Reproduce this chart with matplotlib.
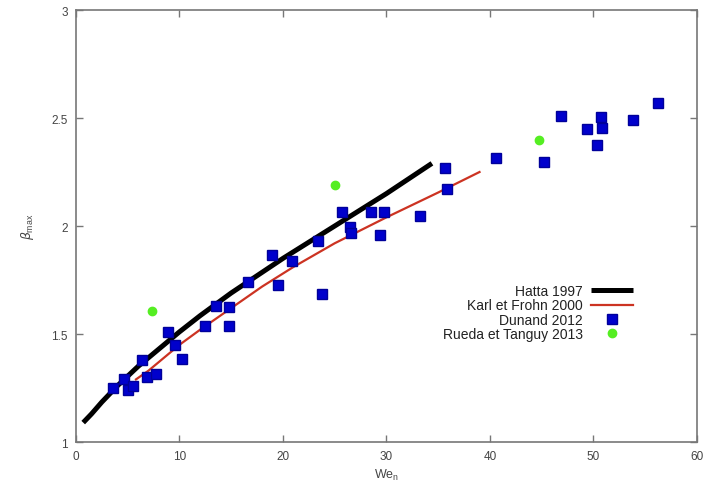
import matplotlib
matplotlib.use("Agg")
import matplotlib.pyplot as plt

plt.rcParams["font.family"] = ["Liberation Sans", "DejaVu Sans"]

# Hatta 1997 curve
hatta_we = [0.7, 1.5, 2.5, 4, 6, 8, 10, 12, 15, 20, 25, 30, 34.4]
hatta_beta = [1.09, 1.13, 1.185, 1.26, 1.35, 1.43, 1.51, 1.585, 1.69, 1.85,
              2.00, 2.15, 2.29]

# Karl et Frohn 2000 curve
karl_we = [5.8, 7, 8, 10, 12, 15, 18, 21, 25, 30, 35, 39.0]
karl_beta = [1.29, 1.33, 1.37, 1.45, 1.52, 1.62, 1.72, 1.81, 1.92, 2.04,
             2.155, 2.25]

# Dunand 2012 measurements
dunand_we = [3.55, 4.6, 5.0, 5.5, 6.35, 6.9, 7.7, 8.9, 9.6, 10.2, 12.5, 13.5,
             14.8, 14.8, 16.6, 18.9, 19.5, 20.9, 23.4, 23.8, 25.7, 26.5, 26.6,
             28.5, 29.4, 29.8, 33.2, 35.7, 35.9, 40.6, 45.2, 46.9, 49.4, 50.4,
             50.7, 50.8, 53.85, 56.2]
dunand_beta = [1.25, 1.29, 1.24, 1.26, 1.38, 1.30, 1.315, 1.51, 1.45, 1.385,
               1.535, 1.63, 1.625, 1.537, 1.74, 1.866, 1.727, 1.84, 1.93, 1.687,
               2.066, 1.994, 1.968, 2.063, 1.96, 2.063, 2.045, 2.267, 2.17,
               2.315, 2.295, 2.51, 2.449, 2.375, 2.503, 2.452, 2.492, 2.569]

# Rueda et Tanguy 2013 measurements
rueda_we = [7.3, 25.0, 44.7]
rueda_beta = [1.606, 2.19, 2.398]

fig = plt.figure(figsize=(7.06, 4.89), dpi=100)
ax = fig.add_axes([0.1076, 0.094, 0.8794, 0.8835])

ax.plot(hatta_we, hatta_beta, color="black", lw=3.6, label="Hatta 1997",
        solid_capstyle="butt")
ax.plot(karl_we, karl_beta, color="#cc3322", lw=1.6, label="Karl et Frohn 2000")
ax.plot(dunand_we, dunand_beta, "s", color="#0000cc", markeredgecolor="#00009a",
        markersize=7, label="Dunand 2012")
ax.plot(rueda_we, rueda_beta, "o", color="#55ee22", markeredgecolor="#55ee22",
        markersize=6, label="Rueda et Tanguy 2013")

ax.set_xlim(0, 60)
ax.set_ylim(1, 3)
ax.set_xticks(range(0, 61, 10))
ax.set_yticks([1, 1.5, 2, 2.5, 3])
ax.set_yticklabels(["1", "1.5", "2", "2.5", "3"])
ax.tick_params(direction="in", top=True, right=True, length=5, width=1,
               colors="#777777", labelcolor="#444444", labelsize=8.5, pad=6)
for s in ax.spines.values():
    s.set_color("#777777")
    s.set_linewidth(1.2)

ax.set_xlabel("We$_\\mathregular{n}$", fontsize=9, color="#444444", labelpad=3)
ax.set_ylabel("$\\beta_\\mathregular{max}$", fontsize=9, color="#444444",
              labelpad=11)

leg = ax.legend(loc="upper right", bbox_to_anchor=(0.913, 0.388),
                markerfirst=False, frameon=False, fontsize=10, numpoints=1,
                handlelength=3.0, handletextpad=0.6, labelspacing=0.02,
                borderpad=0.2)
for t in leg.get_texts():
    t.set_ha("right")
    t.set_color("#222222")
leg._legend_box.align = "right"

fig.savefig("out.png", dpi=100)
